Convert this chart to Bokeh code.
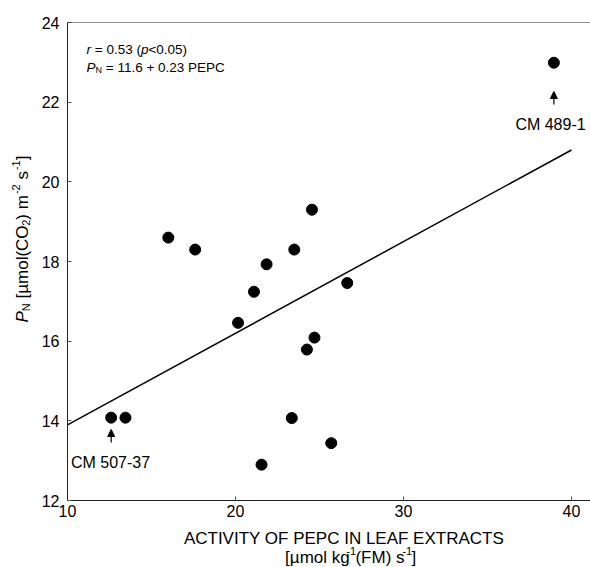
import math
from bokeh.plotting import figure
from bokeh.layouts import row, column
from bokeh.models import Label, Span, Arrow, NormalHead
from bokeh.embed import file_html
from bokeh.resources import INLINE

# ---------------- data ----------------
pepc_activity = [12.6, 13.45, 16.0, 17.6, 20.15, 21.1, 21.85, 21.55, 23.35,
                 23.5, 24.25, 24.55, 24.7, 25.7, 26.65, 38.95]
pn_rate = [14.08, 14.08, 18.6, 18.3, 16.46, 17.24, 17.93, 12.9, 14.07,
           18.3, 15.79, 19.3, 16.09, 13.44, 17.46, 22.99]
fit_intercept = 11.6
fit_slope = 0.23
fit_x = [10, 40]
x_ticks = [10, 20, 30, 40]
y_ticks = [12, 14, 16, 18, 20, 22, 24]
labelled = [("CM 489-1", 38.95, 22.99), ("CM 507-37", 12.6, 14.08)]

# ---------------- layout (page pixels) ----------------
PAGE_W, PAGE_H = 590, 567
LEFT_STRIP = 32
MAIN_H = 528
X_START, X_END = 10, 41.13
Y_START, Y_END = 12, 24
FRAME_L, FRAME_R, FRAME_T, FRAME_B = 67, 590, 22, 500
FONT = "Liberation Sans"


def dx(px):
    return X_START + (px - FRAME_L) * (X_END - X_START) / (FRAME_R - FRAME_L)


def dy(py):
    return Y_END - (py - FRAME_T) * (Y_END - Y_START) / (FRAME_B - FRAME_T)


W = {' ': 278, '[': 278, ']': 278, '(': 333, ')': 333, 'µ': 556, 'm': 833,
     'o': 556, 'l': 222, 'C': 722, 'O': 778, '2': 556, '1': 556, '-': 333,
     's': 500, 'k': 500, 'g': 556, 'F': 611, 'M': 833, 'P': 667, 'N': 722,
     'r': 333, '=': 584, '0': 556, '.': 278, '5': 556, '3': 556, 'p': 556,
     '<': 584, '6': 556, '+': 584, 'E': 667}


def text_w(t, size):
    return sum(W.get(c, 556) for c in t) * size / 1000.0


def run(fig, pieces, x0, y0, angle=0.0, cx=lambda v: v, cy=lambda v: v):
    """pieces: (text, size, raise_px, italic); x0, y0 = baseline start in pixels."""
    pos = 0.0
    for t, size, rise, italic in pieces:
        if rise > 0:
            pos += 1.0
        lead = len(t) - len(t.lstrip(" "))
        pos += text_w(" " * lead, size)
        core = t.strip(" ")
        if angle == 0:
            x, y = x0 + pos, y0 - rise
        else:
            x, y = x0 - rise, y0 - pos
        fig.add_layout(Label(x=cx(x), y=cy(y), text=core, text_font=FONT,
                             text_font_size=f"{size}px",
                             text_font_style="italic" if italic else "normal",
                             text_color="black", angle=angle,
                             text_align="left", text_baseline="alphabetic"))
        pos += text_w(t.lstrip(" "), size)
    return pos


def blank(width, height, xr, yr):
    f = figure(width=width, height=height, x_range=xr, y_range=yr,
               x_axis_type=None, y_axis_type=None, min_border=0,
               output_backend="svg", toolbar_location=None)
    f.grid.visible = False
    f.outline_line_color = None
    f.border_fill_color = "white"
    f.background_fill_color = "white"
    return f


# ---------------- main plot ----------------
p = figure(width=PAGE_W - LEFT_STRIP, height=MAIN_H,
           x_range=(X_START, X_END), y_range=(Y_START, Y_END),
           output_backend="svg", toolbar_location=None,
           min_border_left=FRAME_L - LEFT_STRIP, min_border_right=0,
           min_border_top=FRAME_T, min_border_bottom=MAIN_H - FRAME_B)
p.grid.visible = False
p.outline_line_color = None
p.background_fill_color = "white"
p.border_fill_color = "white"

for ax in (p.xaxis[0], p.yaxis[0]):
    ax.axis_line_color = "#222222"
    ax.axis_line_width = 1
    ax.major_tick_in = 4
    ax.major_tick_out = 0
    ax.major_tick_line_color = "#555555"
    ax.minor_tick_line_color = None
    ax.major_label_text_font = FONT
    ax.major_label_text_font_size = "16px"
    ax.major_label_text_color = "black"
p.xaxis.ticker = x_ticks
p.yaxis.ticker = y_ticks
p.xaxis.major_label_standoff = 4
p.yaxis.major_label_standoff = 8

p.add_layout(Span(location=Y_END, dimension="width", line_color="#222222", line_width=1))

p.line(fit_x, [fit_intercept + fit_slope * x for x in fit_x], line_color="black", line_width=1.5)
p.scatter(pepc_activity, pn_rate, size=11, fill_color="black", line_color="black")

# statistics annotation
run(p, [("r", 13.5, 0, True), (" = 0.53 (", 13.5, 0, False), ("p", 13.5, 0, True),
        ("<0.05)", 13.5, 0, False)], 86, 49, cx=dx, cy=dy)
run(p, [("P", 13.5, 0, True), ("N", 9, -2.5, False),
        (" = 11.6 + 0.23 PEPC", 13.5, 0, False)], 86, 66.5, cx=dx, cy=dy)

# labelled cultivars
name, ax_, ay_ = labelled[0]
p.add_layout(Arrow(end=NormalHead(size=7, fill_color="black", line_color="black"),
                   x_start=ax_, y_start=dy(104), x_end=ax_, y_end=dy(91),
                   line_color="black", line_width=1.2))
p.add_layout(Label(x=dx(550), y=dy(124), text=name, text_font=FONT,
                   text_font_size="16px", text_align="center",
                   text_baseline="alphabetic", text_color="black"))
name, ax_, ay_ = labelled[1]
p.add_layout(Arrow(end=NormalHead(size=7, fill_color="black", line_color="black"),
                   x_start=ax_, y_start=dy(442), x_end=ax_, y_end=dy(429),
                   line_color="black", line_width=1.2))
p.add_layout(Label(x=dx(110), y=dy(462), text=name, text_font=FONT,
                   text_font_size="16px", text_align="center",
                   text_baseline="alphabetic", text_color="black"))

# ---------------- y axis title strip (pixel coordinates) ----------------
ytf = blank(LEFT_STRIP, PAGE_H, (0, LEFT_STRIP), (PAGE_H, 0))
run(ytf, [("P", 17, 0, True), ("N", 11, -3, False), (" [µmol(CO", 17, 0, False),
          ("2", 11, -3, False), (") m", 17, 0, False), ("-2", 11, 7, False),
          (" s", 17, 0, False), ("-1", 11, 7, False), ("]", 17, 0, False)],
    22, 322, angle=math.pi / 2)

# ---------------- x axis title strip (pixel coordinates) ----------------
xtf = blank(PAGE_W - LEFT_STRIP, PAGE_H - MAIN_H, (LEFT_STRIP, PAGE_W), (PAGE_H, MAIN_H))
xtf.add_layout(Label(x=327, y=538, text="ACTIVITY OF PEPC IN LEAF EXTRACTS",
                     text_font=FONT, text_font_size="17px", text_align="center",
                     text_baseline="alphabetic", text_color="black"))
l2 = [("[µmol kg", 17, 0, False), ("-1", 11, 7, False), ("(FM) s", 17, 0, False),
      ("-1", 11, 7, False), ("]", 17, 0, False)]
l2w = sum(text_w(t, s) for t, s, _, _ in l2) + 2
run(xtf, l2, 334 - l2w / 2, 557)

layout = row(ytf, column(p, xtf, spacing=0), spacing=0)
open("out.html", "w").write(file_html(layout, INLINE))
